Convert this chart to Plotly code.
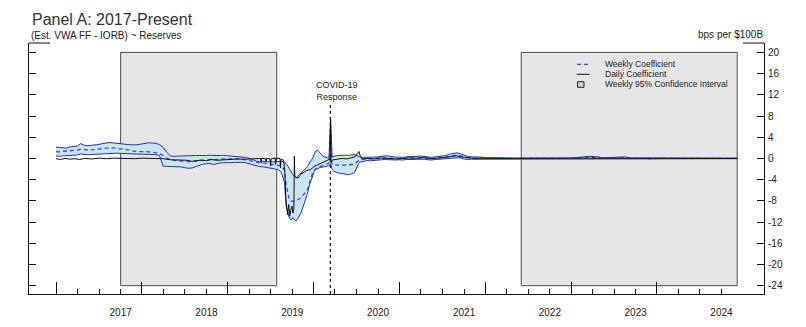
import plotly.graph_objects as go

# ---------------------------------------------------------------------------
# Weekly regression of (Est. VWA FF - IORB) on reserves: coefficient and
# 95% confidence bounds, in bps per $100B of reserves
# ---------------------------------------------------------------------------
weekly_dates = [
    "2016-04-01", "2016-04-15", "2016-05-01", "2016-05-15", "2016-06-01", "2016-06-15",
    "2016-07-01", "2016-07-15", "2016-08-01", "2016-08-15", "2016-09-01", "2016-09-15",
    "2016-10-01", "2016-10-15", "2016-11-01", "2016-11-15", "2016-12-01", "2016-12-15",
    "2017-01-01", "2017-01-15", "2017-02-01", "2017-02-15", "2017-03-01", "2017-03-15",
    "2017-04-01", "2017-04-15", "2017-05-01", "2017-05-15", "2017-06-01", "2017-06-15",
    "2017-07-01", "2017-07-15", "2017-08-01", "2017-08-15", "2017-09-01", "2017-09-15",
    "2017-10-01", "2017-10-15", "2017-11-01", "2017-11-15", "2017-12-01", "2017-12-15",
    "2018-01-01", "2018-01-15", "2018-02-01", "2018-02-15", "2018-03-01", "2018-03-15",
    "2018-04-01", "2018-04-15", "2018-05-01", "2018-05-15", "2018-06-01", "2018-06-15",
    "2018-07-01", "2018-07-15", "2018-08-01", "2018-08-15", "2018-09-01", "2018-09-15",
    "2018-10-01", "2018-10-15", "2018-11-01", "2018-11-15", "2018-11-29", "2018-12-06",
    "2018-12-13", "2018-12-20", "2018-12-27",
    "2019-01-03", "2019-01-10", "2019-01-17", "2019-01-24", "2019-01-31",
    "2019-02-07", "2019-02-14", "2019-02-21", "2019-02-28",
    "2019-03-07", "2019-03-14", "2019-03-21", "2019-03-28",
    "2019-04-04", "2019-04-11", "2019-04-18", "2019-04-25",
    "2019-05-02", "2019-05-09", "2019-05-16", "2019-05-23", "2019-05-30",
    "2019-06-06", "2019-06-13", "2019-06-20", "2019-06-27",
    "2019-07-04", "2019-07-11", "2019-07-18", "2019-07-25",
    "2019-08-01", "2019-08-08", "2019-08-15", "2019-08-22", "2019-08-29",
    "2019-09-05", "2019-09-12", "2019-09-19", "2019-09-26",
    "2019-10-03", "2019-10-10", "2019-10-17", "2019-10-31",
    "2019-11-15", "2019-12-01", "2019-12-15",
    "2020-01-01", "2020-01-15", "2020-02-01", "2020-02-15", "2020-03-01", "2020-03-15",
    "2020-04-01", "2020-04-15", "2020-05-01", "2020-05-15", "2020-06-01", "2020-06-15",
    "2020-07-01", "2020-07-15", "2020-08-01", "2020-08-15", "2020-09-01", "2020-09-15",
    "2020-10-01", "2020-10-15", "2020-11-01", "2020-11-15", "2020-12-01", "2020-12-15",
    "2021-01-01", "2021-01-15", "2021-02-01", "2021-02-15", "2021-03-01", "2021-03-15",
    "2021-04-01", "2021-05-01", "2021-06-01", "2021-08-01", "2021-10-01", "2021-12-01",
    "2022-02-01", "2022-04-01", "2022-06-15", "2022-07-15", "2022-08-15", "2022-10-15",
    "2022-11-15", "2022-12-15",
    "2023-03-01", "2023-06-01", "2023-09-01", "2023-12-01", "2024-03-08",
]

weekly_coef = [
    1.30, 1.25, 1.35, 1.40, 1.45, 1.50, 1.55, 1.75, 1.60, 1.58, 1.62, 1.70,
    1.80, 1.90, 1.95, 2.00, 1.98, 1.95,
    1.90, 1.75, 1.60, 1.45, 1.35, 1.30, 1.35, 1.30, 1.25, 1.20, 1.05, 0.90,
    0.55, 0.05, -0.20, -0.35, -0.45, -0.55, -0.60, -0.65, -0.60, -0.50, -0.40, -0.30,
    -0.25, -0.20, -0.25, -0.15, -0.15, -0.10, -0.15, -0.15, -0.10, -0.10, -0.15, -0.20,
    -0.35, -0.55, -0.75, -0.85, -0.90, -1.00, -1.05, -1.15, -1.25, -1.40, -2.20, -5.00,
    -6.50, -7.80, -8.10,
    -8.00, -8.10, -8.00, -7.80, -7.60,
    -7.40, -7.00, -6.70, -6.20,
    -5.80, -4.80, -3.60, -2.80,
    -2.20, -1.90, -1.70, -1.60,
    -1.50, -1.40, -1.30, -1.20, -1.10,
    -0.90, 3.00, -1.20, -1.20,
    -1.25, -1.20, -1.25, -1.25,
    -1.30, -1.30, -1.25, -1.25, -1.20,
    -1.20, -1.15, -1.10, -0.90,
    -0.60, -0.40, -0.25, -0.15,
    -0.10, -0.15, -0.05,
    0.00, 0.05, 0.10, 0.05, 0.00, -0.05, 0.00, -0.05, 0.05, 0.05, 0.10, 0.10,
    0.15, 0.10, 0.00, -0.05, 0.05, 0.10, 0.15, 0.25, 0.40, 0.55, 0.60, 0.50,
    0.25, 0.10, 0.05, 0.05, 0.10, 0.10, 0.05, 0.02, 0.00, 0.00, 0.00, -0.01,
    -0.02, 0.00, 0.15, 0.12, 0.02, 0.10, 0.10, 0.00,
    -0.01, 0.00, 0.00, 0.00, 0.00,
]

weekly_lo = [
    0.45, 0.40, 0.50, 0.55, 0.60, 0.62, 0.65, 0.85, 0.70, 0.68, 0.75, 0.80,
    0.85, 0.90, 0.92, 0.95, 0.95, 0.98,
    0.95, 0.92, 0.90, 0.88, 0.85, 0.85, 0.90, 0.88, 0.85, 0.80, 0.70, 0.55,
    -1.45, -1.50, -1.50, -1.55, -1.55, -1.60, -1.75, -1.85, -1.80, -1.55, -1.30, -1.10,
    -1.00, -0.95, -1.15, -0.95, -0.85, -0.80, -0.85, -0.80, -0.75, -0.70, -0.75, -0.80,
    -1.00, -1.20, -1.45, -1.55, -1.60, -1.70, -1.80, -1.90, -2.10, -2.60, -4.50, -9.00,
    -10.50, -11.30, -11.60,
    -11.20, -11.50, -11.80, -11.40, -10.90,
    -10.30, -9.40, -8.60, -7.60,
    -6.60, -5.20, -4.20, -3.20,
    -2.50, -2.10, -1.90, -1.80,
    -1.70, -1.65, -1.60, -1.55, -1.50,
    -1.40, -1.00, -2.10, -2.40,
    -2.60, -2.70, -2.75, -2.80,
    -2.90, -3.00, -3.05, -3.10, -3.10,
    -3.00, -2.90, -2.80, -2.40,
    -1.50, -1.00, -0.70, -0.50,
    -0.40, -0.45, -0.35,
    -0.30, -0.25, -0.20, -0.25, -0.30, -0.30, -0.25, -0.30, -0.20, -0.25, -0.20, -0.15,
    -0.10, -0.15, -0.25, -0.30, -0.20, -0.15, -0.10, -0.05, 0.05, 0.15, 0.20, 0.15,
    -0.10, -0.20, -0.15, -0.15, -0.10, -0.05, -0.05, -0.05, -0.05, -0.06, -0.05, -0.06,
    -0.08, -0.05, -0.02, -0.02, -0.05, -0.02, -0.03, -0.06,
    -0.07, -0.06, -0.06, -0.05, -0.05,
]

weekly_hi = [
    2.15, 2.05, 2.00, 1.95, 2.20, 2.30, 2.35, 2.80, 2.45, 2.40, 2.45, 2.50,
    2.65, 2.80, 2.95, 3.00, 2.92, 2.88,
    2.85, 2.70, 2.60, 2.55, 2.55, 2.60, 2.75, 2.80, 2.95, 2.90, 2.85, 2.60,
    2.10, 1.20, 0.45, 0.40, 0.45, 0.40, 0.50, 0.55, 0.60, 0.55, 0.55, 0.50,
    0.55, 0.60, 0.50, 0.55, 0.55, 0.60, 0.50, 0.45, 0.45, 0.35, 0.30, 0.20,
    0.05, -0.20, -0.50, -0.60, -0.55, -0.65, -0.60, -0.70, -0.60, -0.55, -0.65, -1.00,
    -1.40, -2.00, -2.60,
    -3.00, -3.40, -3.60, -3.70, -3.50,
    -2.80, -2.40, -2.10, -1.90,
    -1.50, -1.00, -0.60, 0.00,
    0.80, 1.40, 1.60, 1.20,
    0.80, 0.55, 0.35, 0.20, 0.10,
    0.10, 7.20, 0.30, 0.40,
    0.50, 0.55, 0.55, 0.60,
    0.55, 0.60, 0.60, 0.55, 0.60,
    0.65, 0.70, 0.75, 0.70,
    0.50, 0.35, 0.25, 0.20,
    0.20, 0.15, 0.25,
    0.30, 0.40, 0.50, 0.45, 0.30, 0.25, 0.25, 0.20, 0.30, 0.30, 0.35, 0.40,
    0.45, 0.40, 0.25, 0.20, 0.30, 0.35, 0.45, 0.55, 0.80, 0.95, 1.05, 0.90,
    0.55, 0.40, 0.30, 0.30, 0.35, 0.25, 0.15, 0.10, 0.08, 0.06, 0.06, 0.05,
    0.05, 0.06, 0.40, 0.35, 0.10, 0.30, 0.30, 0.08,
    0.05, 0.06, 0.05, 0.06, 0.05,
]

# Daily regression coefficient
daily_dates = [
    "2016-04-01", "2016-04-20", "2016-05-10", "2016-06-01", "2016-06-20", "2016-07-10",
    "2016-08-01", "2016-09-01", "2016-10-01", "2016-11-01", "2016-12-01",
    "2017-01-01", "2017-02-01", "2017-03-01", "2017-04-01", "2017-05-01", "2017-06-01",
    "2017-07-01", "2017-08-01", "2017-09-01", "2017-09-20", "2017-10-10", "2017-11-01",
    "2017-11-20", "2017-12-10",
    "2018-01-01", "2018-01-20", "2018-02-15", "2018-03-15", "2018-04-15", "2018-05-15",
    "2018-06-15", "2018-07-15", "2018-08-01", "2018-08-20", "2018-08-22", "2018-08-24",
    "2018-09-10", "2018-09-12", "2018-09-14", "2018-09-28", "2018-10-01", "2018-10-03",
    "2018-10-20", "2018-10-22", "2018-10-24", "2018-11-10", "2018-11-12", "2018-11-14",
    "2018-11-25", "2018-11-30", "2018-12-05", "2018-12-12", "2018-12-17", "2018-12-21",
    "2018-12-26", "2018-12-31",
    "2019-01-04", "2019-01-08", "2019-01-10", "2019-01-12", "2019-01-20", "2019-02-01",
    "2019-02-15", "2019-03-01", "2019-03-20", "2019-04-05", "2019-04-20", "2019-05-05",
    "2019-05-20", "2019-06-05", "2019-06-11", "2019-06-13", "2019-06-15", "2019-06-20",
    "2019-07-10", "2019-08-01", "2019-08-20", "2019-09-10", "2019-09-25", "2019-10-03",
    "2019-10-12", "2019-10-18", "2019-10-25", "2019-11-15", "2019-12-15",
    "2020-01-15", "2020-02-15", "2020-03-15", "2020-04-15", "2020-05-15", "2020-06-15",
    "2020-07-15", "2020-08-15", "2020-09-15", "2020-10-15", "2020-11-15", "2020-12-01",
    "2020-12-20", "2021-01-15", "2021-02-15", "2021-03-15", "2021-05-01",
    "2022-06-15", "2022-11-15", "2024-03-08",
]

daily_coef = [
    -0.05, -0.20, 0.00, -0.15, -0.05, -0.20,
    0.00, -0.10, 0.05, -0.05, 0.05,
    0.00, 0.05, -0.05, 0.05, 0.00, 0.05,
    -0.05, -0.25, -0.30, -0.45, -0.35, -0.55,
    -0.40, -0.30,
    -0.45, -0.20, -0.35, -0.25, -0.20, -0.10,
    -0.15, -0.10, -0.05, 0.00, -0.80, 0.05,
    -0.10, -0.60, 0.00, -0.05, -1.40, -0.10,
    0.10, -1.10, 0.05, 0.00, -1.80, -0.20,
    -0.30, -2.20, -7.80, -10.60, -8.70, -10.90,
    -9.70, -9.00,
    -10.30, -9.50, 0.40, -3.40, -3.70, -3.00,
    -2.75, -2.30, -2.10, -1.50, -1.20, -0.90,
    -0.60, -0.30, -0.10, 7.60, -0.80, -0.30,
    -0.10, 0.00, -0.10, 0.05, 0.30, 0.80,
    1.30, 0.40, -0.10, 0.00, -0.10,
    0.10, 0.05, -0.10, 0.00, 0.10, 0.05,
    0.15, -0.05, 0.05, 0.20, 0.40, 0.50,
    0.30, 0.10, 0.00, 0.05, 0.00,
    0.05, 0.05, 0.00,
]

assert len(weekly_dates) == len(weekly_coef) == len(weekly_lo) == len(weekly_hi)
assert len(daily_dates) == len(daily_coef)

# Shaded periods and event marker
shade_start = ["2017-01-01", "2021-09-01"]
shade_end = ["2018-10-27", "2024-03-08"]
covid_date = "2019-06-12"

# Axis ticks
year_labels = ["2017", "2018", "2019", "2020", "2021", "2022", "2023", "2024"]
year_ticks = [f"{y}-01-01" for y in year_labels]
long_ticks = [f"{y}-04-01" for y in range(2016, 2024)]
short_ticks = [f"{y}-{m}-01" for y in range(2016, 2024) for m in ("07", "10")]
y_ticks = [20, 16, 12, 8, 4, 0, -4, -8, -12, -16, -20, -24]

X_RANGE = ["2015-12-08", "2024-06-30"]
Y_RANGE = [-25.57, 21.77]

W, H = 806, 327
L, R, T, B = 29, 42, 43, 33

FONT = "Liberation Sans, Arial, Helvetica, sans-serif"
TXT = "#222222"
CI_LINE = "#2435a8"
CI_FILL = "#cbe4f2"
WEEK_LINE = "#3b4fd8"


def fx(p):
    """Pixel column -> paper x."""
    return (p - L) / (W - L - R)


def fy(p):
    """Pixel row -> paper y."""
    return (H - B - p) / (H - T - B)


fig = go.Figure()

# Confidence band: lower bound, then upper bound filled down to it
fig.add_trace(go.Scatter(
    x=weekly_dates, y=weekly_lo, mode="lines",
    line=dict(color=CI_LINE, width=1), showlegend=False, hoverinfo="skip",
))
fig.add_trace(go.Scatter(
    x=weekly_dates, y=weekly_hi, mode="lines", fill="tonexty",
    fillcolor=CI_FILL, line=dict(color=CI_LINE, width=1),
    showlegend=False, hoverinfo="skip",
))
# Weekly coefficient
fig.add_trace(go.Scatter(
    x=weekly_dates, y=weekly_coef, mode="lines",
    line=dict(color=WEEK_LINE, width=1.3, dash="4px,3px"), showlegend=False,
))
# Daily coefficient (on the overlaid x axis that carries the long ticks)
fig.add_trace(go.Scatter(
    x=daily_dates, y=daily_coef, mode="lines", xaxis="x2",
    line=dict(color="#111111", width=1), showlegend=False,
))

shapes = []
for s, e in zip(shade_start, shade_end):
    shapes.append(dict(
        type="rect", xref="x", yref="y", x0=s, x1=e, y0=-24, y1=20,
        fillcolor="#e6e6e6", line=dict(color="#4a4a4a", width=1), layer="below",
    ))
shapes.append(dict(
    type="line", xref="x", yref="y", x0=covid_date, x1=covid_date,
    y0=Y_RANGE[0], y1=10.5, line=dict(color="#111111", width=1.2, dash="3px,3px"),
))
# Short caps at the top of both vertical axes
for a, b in ((29, 50), (743, 764)):
    shapes.append(dict(
        type="line", xref="paper", yref="paper", x0=fx(a), x1=fx(b),
        y0=1, y1=1, line=dict(color="#111111", width=1),
    ))

# Legend keys
shapes.append(dict(
    type="line", xref="paper", yref="paper", x0=fx(577), x1=fx(589),
    y0=fy(64.3), y1=fy(64.3), line=dict(color=WEEK_LINE, width=1.3, dash="4px,3px"),
))
shapes.append(dict(
    type="line", xref="paper", yref="paper", x0=fx(576.7), x1=fx(589.5),
    y0=fy(74.3), y1=fy(74.3), line=dict(color="#111111", width=1),
))
shapes.append(dict(
    type="rect", xref="paper", yref="paper", x0=fx(577.5), x1=fx(584),
    y0=fy(87.3), y1=fy(81.7), fillcolor="#b7d9e2", line=dict(color="#222222", width=1),
))

legend_items = ["Weekly Coefficient", "Daily Coefficient", "Weekly 95% Confidence Interval"]
legend_rows = [63.6, 74.2, 84.4]

annotations = []
for text, row in zip(legend_items, legend_rows):
    annotations.append(dict(
        text=text, xref="paper", yref="paper", x=fx(602.5), y=fy(row),
        xanchor="left", yanchor="middle", showarrow=False,
        font=dict(family=FONT, size=8.5, color=TXT),
    ))

annotations += [
    dict(text="Panel A: 2017-Present", xref="paper", yref="paper",
         x=fx(29.5), y=fy(19.2), xanchor="left", yanchor="middle", showarrow=False,
         font=dict(family=FONT, size=16, color="#333333")),
    dict(text="(Est. VWA FF - IORB) ~ Reserves", xref="paper", yref="paper",
         x=fx(28.5), y=fy(35), xanchor="left", yanchor="middle", showarrow=False,
         font=dict(family=FONT, size=10, color=TXT)),
    dict(text="bps per $100B", xref="paper", yref="paper",
         x=fx(765), y=fy(34.5), xanchor="right", yanchor="middle", showarrow=False,
         font=dict(family=FONT, size=10, color=TXT)),
    dict(text="COVID-19<br>Response", xref="x", yref="y",
         x=covid_date, y=12.8, xshift=7, xanchor="center", yanchor="middle",
         showarrow=False, font=dict(family=FONT, size=9, color=TXT)),
]

fig.update_layout(
    width=W, height=H,
    margin=dict(l=L, r=R, t=T, b=B, pad=0, autoexpand=False),
    paper_bgcolor="white", plot_bgcolor="white",
    showlegend=False,
    shapes=shapes, annotations=annotations,
    font=dict(family=FONT, size=10, color=TXT),
    xaxis=dict(
        type="date", range=X_RANGE, showgrid=False, zeroline=False,
        automargin=False,
        showline=True, linecolor="#111111", linewidth=1,
        tickmode="array", tickvals=year_ticks, ticktext=year_labels,
        ticks="inside", ticklen=5, tickcolor="#111111", tickwidth=1,
        ticklabelstandoff=9, tickfont=dict(family=FONT, size=10, color=TXT),
        minor=dict(tickmode="array", tickvals=short_ticks, ticks="inside",
                   ticklen=5, tickcolor="#111111", tickwidth=1, showgrid=False),
    ),
    xaxis2=dict(
        type="date", range=X_RANGE, overlaying="x", anchor="y", side="bottom",
        showgrid=False, zeroline=False, showline=False, automargin=False,
        tickmode="array", tickvals=long_ticks, showticklabels=False,
        ticks="inside", ticklen=12, tickcolor="#111111", tickwidth=1,
    ),
    yaxis=dict(
        range=Y_RANGE, side="right", showgrid=False, zeroline=False,
        automargin=False,
        showline=True, linecolor="#111111", linewidth=1, mirror="ticks",
        tickmode="array", tickvals=y_ticks, ticktext=[str(v) for v in y_ticks],
        ticks="inside", ticklen=7, tickcolor="#111111", tickwidth=1,
        ticklabelstandoff=1, tickfont=dict(family=FONT, size=10, color=TXT),
    ),
)

fig.write_html("out.html")
